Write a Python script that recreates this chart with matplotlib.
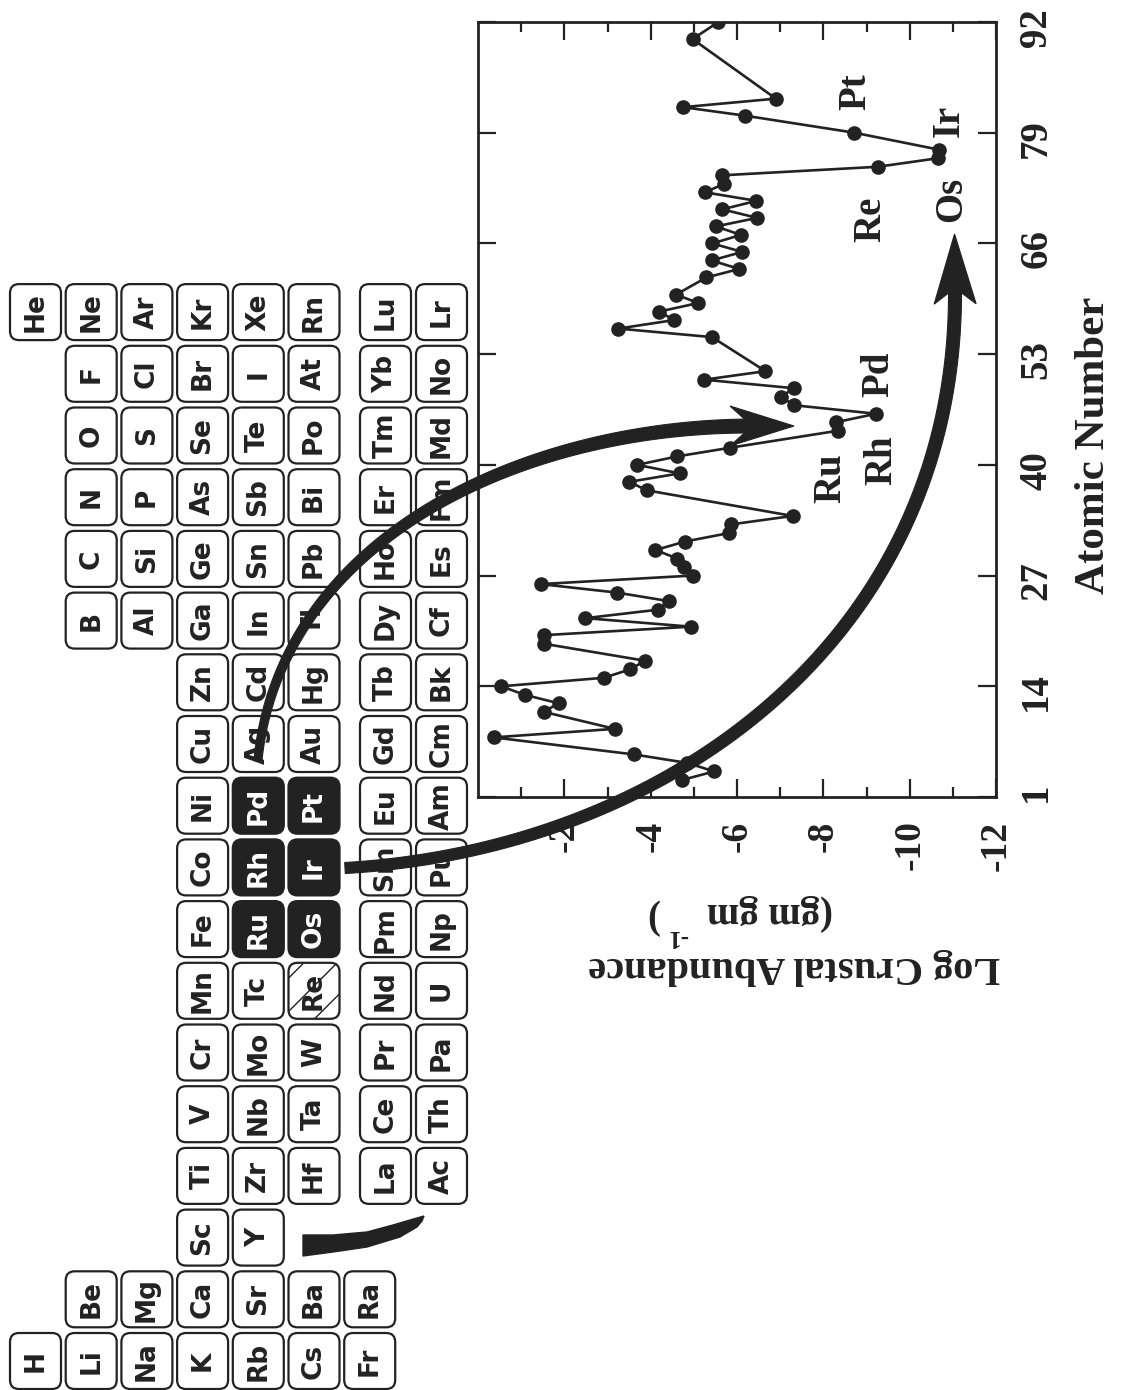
import numpy as np
import matplotlib
matplotlib.use("Agg")
import matplotlib.pyplot as plt
from matplotlib.patches import FancyBboxPatch, Polygon

W, H = 1121, 1390
INK = "#222222"

# log crustal abundance (gm/gm) against atomic number
atomic_number = [3, 4, 5, 6, 8, 9, 11, 12, 13, 14, 15, 16, 17, 19, 20, 21, 22,
                 23, 24, 25, 26, 27, 28, 29, 30, 31, 32, 33, 34, 37, 38, 39, 40,
                 41, 42, 44, 45, 46, 47, 48, 49, 50, 51, 55, 56, 57, 58, 59, 60,
                 62, 63, 64, 65, 66, 67, 68, 69, 70, 71, 72, 73, 74, 75, 76, 77,
                 79, 81, 82, 83, 90, 92]
log_abundance = [-4.73, -5.47, -4.85, -3.61, -0.36, -3.17, -1.52, -1.87, -1.08,
                 -0.54, -2.92, -3.53, -3.87, -1.52, -1.52, -4.93, -2.49, -4.18,
                 -4.42, -3.22, -1.45, -4.97, -4.77, -4.62, -4.11, -4.80, -5.82,
                 -5.85, -7.29, -3.92, -3.50, -4.67, -3.69, -4.62, -5.83, -8.33,
                 -8.29, -9.22, -7.32, -7.02, -7.32, -5.24, -6.66, -5.42, -3.25,
                 -4.54, -4.20, -5.10, -4.59, -5.29, -6.05, -5.41, -6.12, -5.43,
                 -6.09, -5.51, -6.47, -5.66, -6.45, -5.26, -5.70, -5.66, -9.26,
                 -10.65, -10.69, -8.72, -6.19, -4.75, -6.90, -4.97, -5.57]

abundance_ticks = [-2, -4, -6, -8, -10, -12]
number_ticks = [1, 14, 27, 40, 53, 66, 79, 92]

# (label, log abundance, atomic number) placed next to the curve
pgm_labels = [("Ru", -8.17, 38.4), ("Rh", -9.36, 40.6), ("Pd", -9.29, 50.6),
              ("Re", -9.11, 68.8), ("Os", -10.98, 71.2), ("Ir", -10.92, 80.4),
              ("Pt", -8.76, 83.8)]

# periodic table, one list per period, indexed by group
periods = [
    ["H"] + [""] * 16 + ["He"],
    ["Li", "Be"] + [""] * 10 + ["B", "C", "N", "O", "F", "Ne"],
    ["Na", "Mg"] + [""] * 10 + ["Al", "Si", "P", "S", "Cl", "Ar"],
    ["K", "Ca", "Sc", "Ti", "V", "Cr", "Mn", "Fe", "Co", "Ni", "Cu", "Zn",
     "Ga", "Ge", "As", "Se", "Br", "Kr"],
    ["Rb", "Sr", "Y", "Zr", "Nb", "Mo", "Tc", "Ru", "Rh", "Pd", "Ag", "Cd",
     "In", "Sn", "Sb", "Te", "I", "Xe"],
    ["Cs", "Ba", "", "Hf", "Ta", "W", "Re", "Os", "Ir", "Pt", "Au", "Hg",
     "Tl", "Pb", "Bi", "Po", "At", "Rn"],
    ["Fr", "Ra"] + [""] * 16,
]
lanthanides = ["La", "Ce", "Pr", "Nd", "Pm", "Sm", "Eu", "Gd", "Tb", "Dy",
               "Ho", "Er", "Tm", "Yb", "Lu"]
actinides = ["Ac", "Th", "Pa", "U", "Np", "Pu", "Am", "Cm", "Bk", "Cf", "Es",
             "Fm", "Md", "No", "Lr"]
platinum_group = {"Ru", "Rh", "Pd", "Os", "Ir", "Pt"}
struck_out = {"Re"}

plt.rcParams["font.family"] = ["Liberation Serif", "DejaVu Serif"]
plt.rcParams["font.weight"] = "bold"

fig = plt.figure(figsize=(W / 100, H / 100), dpi=100)
fig.patch.set_facecolor("white")

# ---- abundance curve (drawn sideways: abundance across, atomic number up)
ax = fig.add_axes([478 / W, 1 - 797 / H, (996 - 478) / W, (797 - 22) / H])
ax.plot(log_abundance, atomic_number, "-o", color=INK, lw=1.9, ms=9.5,
        mfc=INK, mec=INK, zorder=3)
ax.set_xlim(0, -12)
ax.set_ylim(1, 92)
ax.set_xticks(abundance_ticks)
ax.set_xticklabels([str(v) for v in abundance_ticks])
ax.set_xticks([-1, -3, -5, -7, -9, -11], minor=True)
ax.set_yticks(number_ticks)
ax.set_yticklabels([str(v) for v in number_ticks])
ax.tick_params(axis="x", which="both", direction="in", top=True, bottom=True,
               width=1.6, color=INK, labelsize=27, labelrotation=90, pad=17,
               labelcolor=INK)
ax.tick_params(axis="x", which="major", length=13)
ax.tick_params(axis="x", which="minor", length=7)
ax.tick_params(axis="y", direction="in", left=True, right=True,
               labelleft=False, labelright=True, length=13, width=1.6,
               color=INK, labelsize=28, labelrotation=90, pad=16,
               labelcolor=INK)
for s in ax.spines.values():
    s.set_linewidth(2.0)
    s.set_color(INK)

for name, a, z in pgm_labels:
    ax.text(a, z, name, rotation=90, ha="center", va="center", fontsize=28,
            color=INK, zorder=4)

# ---- overlay in pixel coordinates for the table, arrows and axis titles
ov = fig.add_axes([0, 0, 1, 1], zorder=5)
ov.set_xlim(0, W)
ov.set_ylim(H, 0)
ov.axis("off")
ov.patch.set_alpha(0)

CW, CH = 51, 56


def period_x(p):
    return 10 + (p - 1) * 55.7


def group_y(g):
    return 1361 - (g - 1) * 61.7


def cell(x0, yc, sym):
    dark = sym in platinum_group
    box = FancyBboxPatch((x0, yc - CH / 2), CW, CH,
                         boxstyle="round,pad=0,rounding_size=9",
                         fc=INK if dark else "white", ec=INK, lw=1.6,
                         hatch="/" if sym in struck_out else None)
    ov.add_patch(box)
    ov.text(x0 + CW / 2, yc, sym, rotation=90, ha="center", va="center",
            fontsize=19, fontfamily="DejaVu Sans", fontweight="bold",
            color="white" if dark else INK)


for p, row in enumerate(periods, start=1):
    for g, sym in enumerate(row, start=1):
        if sym:
            cell(period_x(p), group_y(g), sym)
for i, sym in enumerate(lanthanides):
    cell(360, group_y(i + 4), sym)
for i, sym in enumerate(actinides):
    cell(416, group_y(i + 4), sym)

# swoosh marking where the f-block slots in
swoosh = [(303, 1235), (333, 1235), (367, 1232), (393, 1225), (410, 1220),
          (424, 1216), (422, 1221), (417, 1227), (400, 1237), (367, 1247),
          (333, 1252), (303, 1256)]
ov.add_patch(Polygon(swoosh, closed=True, fc=INK, ec=INK, lw=1))


def curved_arrow(ctrl, w0, w1, head_len, head_w, notch):
    p0, p1, p2, p3 = [np.array(c, float) for c in ctrl]
    t = np.linspace(0, 1, 120)[:, None]
    pts = ((1 - t) ** 3) * p0 + 3 * (1 - t) ** 2 * t * p1 \
        + 3 * (1 - t) * t ** 2 * p2 + t ** 3 * p3
    der = 3 * (1 - t) ** 2 * (p1 - p0) + 6 * (1 - t) * t * (p2 - p1) \
        + 3 * t ** 2 * (p3 - p2)
    u = der / np.linalg.norm(der, axis=1, keepdims=True)
    nrm = np.column_stack([-u[:, 1], u[:, 0]])
    half = np.linspace(w0, w1, len(pts))[:, None] / 2
    shaft = np.vstack([pts + nrm * half, (pts - nrm * half)[::-1]])
    ov.add_patch(Polygon(shaft, closed=True, fc=INK, ec=INK, lw=0.8))
    ue, ne = u[-1], nrm[-1]
    tip = p3 + ue * (head_len - notch)
    back = tip - ue * head_len
    head = [tip, back + ne * head_w, p3, back - ne * head_w]
    ov.add_patch(Polygon(head, closed=True, fc=INK, ec=INK, lw=0.8))


curved_arrow([(258, 760), (280, 540), (520, 426), (752, 426)],
             8, 14, 64, 20, 22)
curved_arrow([(345, 868), (665, 850), (958, 640), (955, 288)],
             11, 13, 70, 21, 16)

# axis titles
ov.text(1094, 445, "Atomic Number", rotation=90, ha="center", va="center",
        fontsize=31, color=INK)
ov.text(794, 967, "Log Crustal Abundance", rotation=180, ha="center",
        va="center", fontsize=29, color=INK)
ov.text(770, 912, "(gm gm", rotation=180, ha="center", va="center",
        fontsize=28, color=INK)
ov.text(678, 936, "-1", rotation=180, ha="center", va="center",
        fontsize=18, color=INK)
ov.text(652, 916, ")", rotation=180, ha="center", va="center",
        fontsize=28, color=INK)

fig.savefig("out.png", dpi=100, facecolor="white")
